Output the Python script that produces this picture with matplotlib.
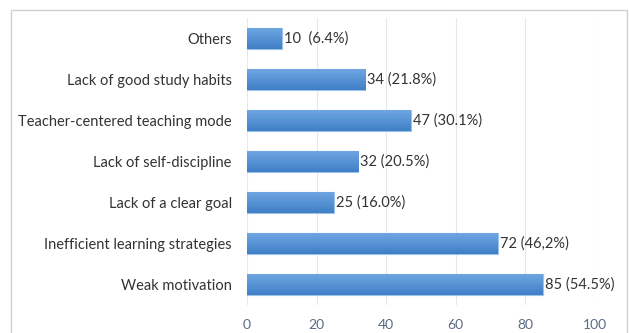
import matplotlib
matplotlib.use("Agg")
import matplotlib.pyplot as plt
from matplotlib.patches import Rectangle
from matplotlib.colors import LinearSegmentedColormap
import numpy as np

categories = ["Others", "Lack of good study habits", "Teacher-centered teaching mode",
              "Lack of self-discipline", "Lack of a clear goal",
              "Inefficient learning strategies", "Weak motivation"]
counts = [10, 34, 47, 32, 25, 72, 85]
value_labels = ["10  (6.4%)", "34 (21.8%)", "47 (30.1%)", "32 (20.5%)",
                "25 (16.0%)", "72 (46,2%)", "85 (54.5%)"]
x_ticks = [0, 20, 40, 60, 80, 100]

plt.rcParams["font.family"] = ["Lato", "DejaVu Sans"]

W, H = 629, 333
fig = plt.figure(figsize=(W / 100, H / 100), dpi=100)

# outer chart border
fig.add_artist(Rectangle((10.5 / W, -0.05), (627 - 10.5) / W, 1.05 - 9.5 / H,
                         transform=fig.transFigure, fill=False,
                         edgecolor="#d0d0d0", linewidth=1.0))

ax = fig.add_axes([247 / W, 1 - 305 / H, (595 - 247) / W, (305 - 18) / H])
y = np.arange(len(categories))
bars = ax.barh(y, counts, height=0.5, color="#4c8bd2", edgecolor="#9cc3ec",
               linewidth=0.8, zorder=3)

# vertical gradient inside each bar
grad = np.linspace(0, 1, 64).reshape(-1, 1)
cmap = LinearSegmentedColormap.from_list("bar", ["#6fa6e2", "#3f7fc6"])
for b in bars:
    x0, y0 = b.get_x(), b.get_y()
    w, h = b.get_width(), b.get_height()
    im = ax.imshow(grad, extent=(x0, x0 + w, y0 + h, y0), aspect="auto",
                   cmap=cmap, zorder=3.5, interpolation="bilinear")
    im.set_clip_path(b)

for b, lab in zip(bars, value_labels):
    ax.text(b.get_width() + 0.6, b.get_y() + b.get_height() / 2, lab,
            va="center", ha="left", fontsize=10.5, color="#333333", zorder=5)

ax.set_xlim(0, 100)
ax.set_ylim(len(categories) - 0.5, -0.5)
ax.set_yticks(y)
ax.set_yticklabels(categories, fontsize=10.5, color="#333333")
ax.set_xticks(x_ticks)
ax.set_xticklabels([str(v) for v in x_ticks], fontsize=10, color="#5a6c85")
ax.tick_params(axis="y", length=0, pad=11)
ax.tick_params(axis="x", length=0, pad=10)
ax.grid(axis="x", color="#e4e8ee", linewidth=0.8, zorder=0)
for s in ax.spines.values():
    s.set_visible(False)

fig.savefig("out.png", dpi=100)
